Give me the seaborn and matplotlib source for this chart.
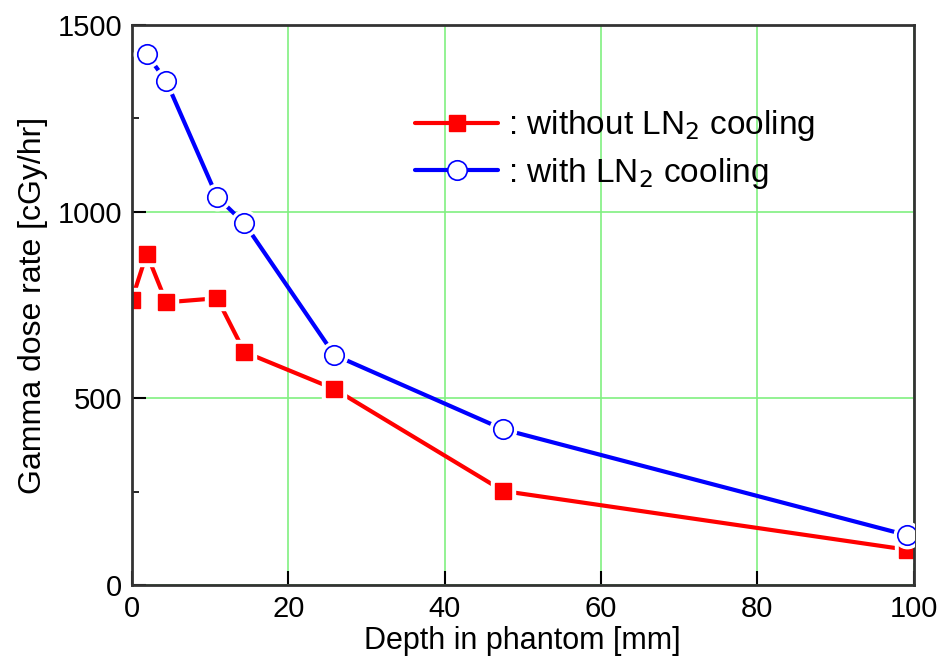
import seaborn as sns
import matplotlib.pyplot as plt
import pandas as pd
from matplotlib.lines import Line2D
from matplotlib.ticker import MultipleLocator

sns.set_theme(style="white")
plt.rcParams['font.family'] = ['Liberation Sans', 'DejaVu Sans']
plt.rcParams['text.color'] = 'black'
plt.rcParams['axes.labelcolor'] = 'black'
plt.rcParams['xtick.color'] = 'black'
plt.rcParams['ytick.color'] = 'black'

# --- data ---
depth_without = [0, 1.9, 4.4, 10.9, 14.4, 25.9, 47.5, 99.1]
rate_without = [764, 887, 757, 768, 624, 525, 252, 95]
depth_with = [1.9, 4.4, 10.9, 14.4, 25.9, 47.5, 99.1]
rate_with = [1421, 1349, 1039, 968, 616, 417, 134]

label_without = ': without LN$_2$ cooling'
label_with = ': with LN$_2$ cooling'

df_without = pd.DataFrame({'depth': depth_without, 'rate': rate_without})
df_with = pd.DataFrame({'depth': depth_with, 'rate': rate_with})

fig = plt.figure(figsize=(9.42, 6.68), dpi=100)
ax = fig.add_axes([0.140, 0.124, 0.830, 0.839])

red = '#ff0000'
blue = '#0000ff'

# --- red series: line, white halo, markers ---
sns.lineplot(data=df_without, x='depth', y='rate', ax=ax, color=red,
             linewidth=3, sort=False, zorder=2)
ax.plot(df_without['depth'], df_without['rate'], ls='none', marker='s',
        ms=17, mfc='white', mec='white', zorder=2.1)
ax.plot(df_without['depth'], df_without['rate'], ls='none', marker='s',
        ms=12, mfc=red, mec=red, zorder=2.2)

# --- blue series ---
sns.lineplot(data=df_with, x='depth', y='rate', ax=ax, color=blue,
             linewidth=3, sort=False, zorder=3)
ax.plot(df_with['depth'], df_with['rate'], ls='none', marker='o',
        ms=19, mfc='white', mec='white', zorder=3.1)
ax.plot(df_with['depth'], df_with['rate'], ls='none', marker='o',
        ms=14, mfc='white', mec=blue, mew=1.2, zorder=3.2)

ax.set_xlim(0, 100)
ax.set_ylim(0, 1500)
ax.xaxis.set_major_locator(MultipleLocator(20))
ax.yaxis.set_major_locator(MultipleLocator(500))
ax.yaxis.set_minor_locator(MultipleLocator(250))

ax.grid(True, which='major', color='#80f080', linewidth=1.2)
ax.set_axisbelow(True)

ax.tick_params(axis='both', which='major', direction='in', length=10,
               width=1.5, labelsize=21, pad=7, bottom=True, left=True)
ax.tick_params(axis='y', which='minor', direction='in', length=5,
               width=1.2, left=True)
for s in ax.spines.values():
    s.set_color('#333333')
    s.set_linewidth(2)
    s.set_visible(True)

ax.set_xlabel('Depth in phantom [mm]', fontsize=22, labelpad=2)
ax.set_ylabel('Gamma dose rate [cGy/hr]', fontsize=23, labelpad=7)

handles = [
    Line2D([], [], color=red, lw=3, marker='s', ms=12, mfc=red, mec=red),
    Line2D([], [], color=blue, lw=3, marker='o', ms=14, mfc='white',
           mec=blue, mew=1.2),
]
ax.legend(handles, [label_without, label_with], loc='upper left',
          bbox_to_anchor=(0.362, 0.851), frameon=False, fontsize=24,
          handlelength=2.5, handletextpad=0.3, labelspacing=0.37,
          borderpad=0, borderaxespad=0)

fig.savefig('out.png', dpi=100)
